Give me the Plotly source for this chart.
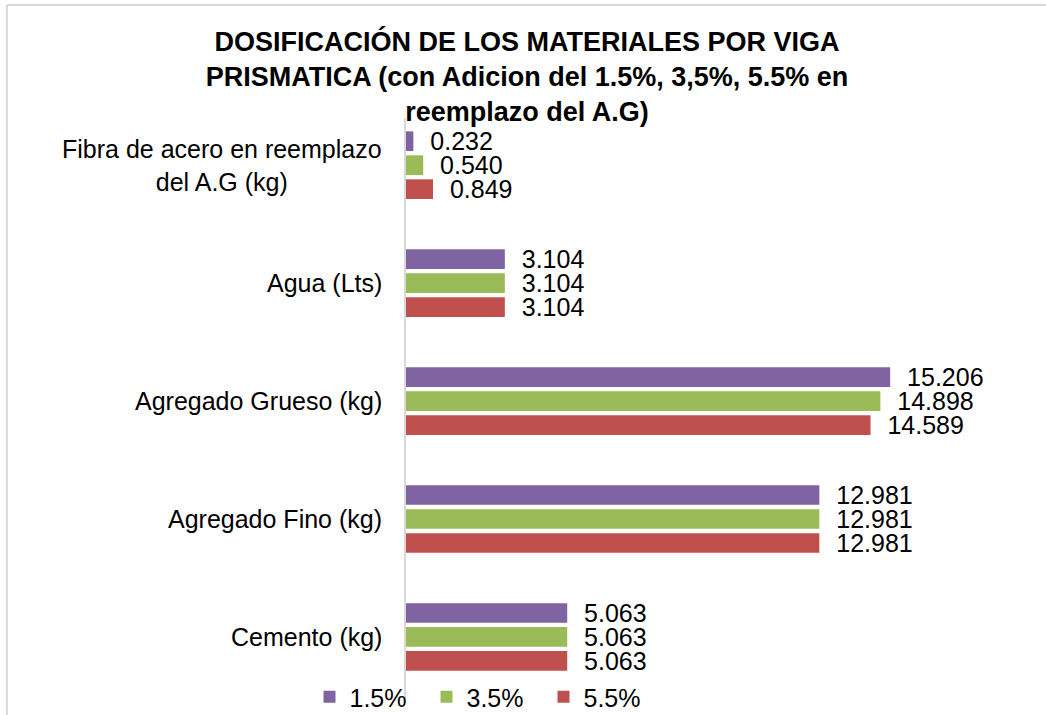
import plotly.graph_objects as go

# categorias de abajo hacia arriba (orden del eje y)
categorias = ["Cemento (kg)", "Agregado Fino (kg)", "Agregado Grueso (kg)",
              "Agua (Lts)", "Fibra de acero en reemplazo<br>del A.G (kg)"]
val_15 = [5.063, 12.981, 15.206, 3.104, 0.232]
val_35 = [5.063, 12.981, 14.898, 3.104, 0.540]
val_55 = [5.063, 12.981, 14.589, 3.104, 0.849]

series = [("5.5%", val_55, "#C0504D"),
          ("3.5%", val_35, "#9BBB59"),
          ("1.5%", val_15, "#8064A2")]

FONT = "Liberation Sans, Arial, sans-serif"

fig = go.Figure()
for nombre, vals, color in series:
    fig.add_trace(go.Bar(
        y=categorias, x=vals, name=nombre, orientation="h",
        marker=dict(color=color, line=dict(width=0)),
        text=vals, texttemplate="\u00a0\u00a0%{x:.3f}", textposition="outside",
        textfont=dict(family=FONT, size=25, color="black"),
        constraintext="none", cliponaxis=False,
    ))

# etiquetas de categoria centradas (como en Excel)
for c in categorias:
    fig.add_annotation(x=0, y=c, xref="x", yref="y", text=c, showarrow=False,
                       xanchor="right", xshift=-22, align="center",
                       font=dict(family=FONT, size=25, color="black"))

# marco gris del grafico
fig.add_shape(type="line", xref="paper", yref="paper",
              x0=(7 - 406) / 604.8, x1=1.2, y0=(703 - 5) / 585, y1=(703 - 5) / 585,
              line=dict(color="#D9D9D9", width=2))
fig.add_shape(type="line", xref="paper", yref="paper",
              x0=(7 - 406) / 604.8, x1=(7 - 406) / 604.8, y0=-0.1, y1=(703 - 5) / 585,
              line=dict(color="#D9D9D9", width=2))

fig.update_layout(
    width=1046, height=715,
    margin=dict(l=406, r=35, t=118, b=12, autoexpand=False),
    paper_bgcolor="white", plot_bgcolor="white",
    barmode="group", bargap=0.39, bargroupgap=0.18,
    font=dict(family=FONT, color="black"),
    title=dict(
        text="<b>DOSIFICACIÓN DE LOS MATERIALES POR VIGA<br>PRISMATICA (con Adicion del 1.5%, 3,5%, 5.5% en<br>reemplazo del A.G)</b>",
        font=dict(family=FONT, size=27, color="black"),
        x=527 / 1046, xanchor="center", xref="container",
        y=1 - 51 / 715, yanchor="top", yref="container",
    ),
    xaxis=dict(range=[0, 19], showticklabels=False, showgrid=False,
               zeroline=False, showline=False),
    yaxis=dict(range=[-0.56, 4.4], showticklabels=False, showgrid=False,
               zeroline=False, showline=True, linecolor="#D9D9D9", linewidth=2,
               categoryorder="array", categoryarray=categorias),
    legend=dict(orientation="h", traceorder="reversed",
                xref="container", x=485 / 1046, xanchor="center",
                yref="container", y=18 / 715, yanchor="middle",
                entrywidth=72, entrywidthmode="pixels",
                font=dict(family=FONT, size=25, color="black"),
                bgcolor="rgba(0,0,0,0)"),
    showlegend=True,
)

# quitar el margen por defecto del body para que la figura ocupe toda la ventana
fig.write_html("out.html", config={"displayModeBar": False},
               post_script="document.body.style.margin='0';")
